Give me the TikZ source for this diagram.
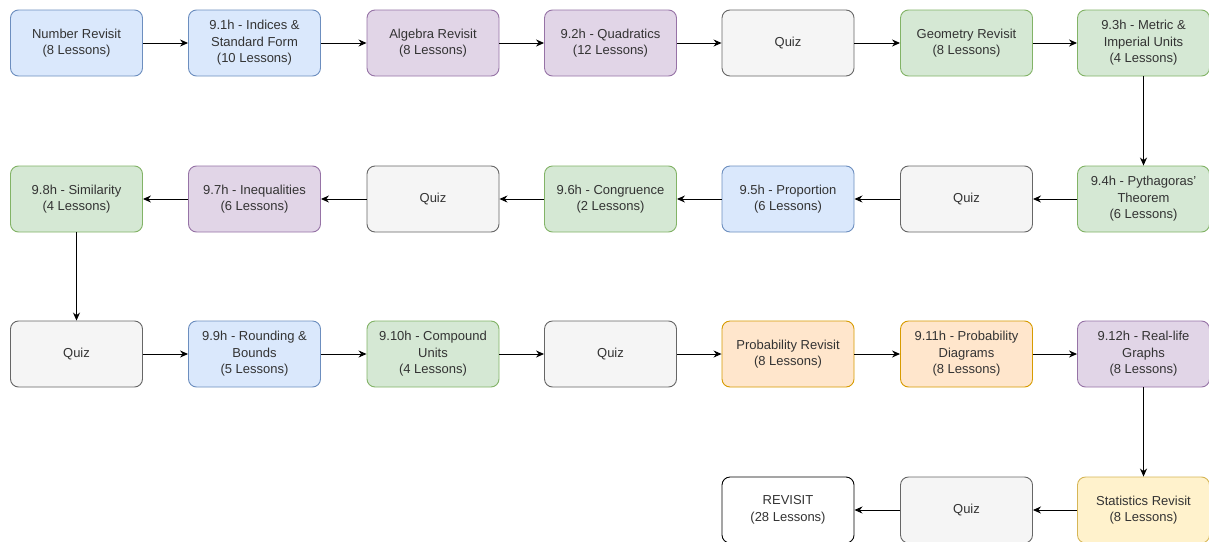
\documentclass[tikz,border=0pt]{standalone}
\usepackage{fontspec}
\setmainfont{Liberation Sans}
\usetikzlibrary{arrows.meta}
\definecolor{bfill}{HTML}{DAE8FC}\definecolor{bline}{HTML}{6C8EBF}
\definecolor{pfill}{HTML}{E1D5E7}\definecolor{pline}{HTML}{9673A6}
\definecolor{gfill}{HTML}{D5E8D4}\definecolor{gline}{HTML}{82B366}
\definecolor{qfill}{HTML}{F5F5F5}\definecolor{qline}{HTML}{666666}
\definecolor{ofill}{HTML}{FFE6CC}\definecolor{oline}{HTML}{D79B00}
\definecolor{yfill}{HTML}{FFF2CC}\definecolor{yline}{HTML}{D6B656}
\definecolor{txt}{HTML}{333333}
\tikzset{
  box/.style={rounded corners=8pt, minimum width=132pt, minimum height=66pt,
    inner sep=0pt, align=center, line width=0.9pt,
    font=\fontsize{13}{16.5}\selectfont, text=txt},
  bluebox/.style={box, fill=bfill, draw=bline},
  purplebox/.style={box, fill=pfill, draw=pline},
  greenbox/.style={box, fill=gfill, draw=gline},
  quizbox/.style={box, fill=qfill, draw=qline},
  orangebox/.style={box, fill=ofill, draw=oline},
  yellowbox/.style={box, fill=yfill, draw=yline},
  whitebox/.style={box, fill=white, draw=black},
  conn/.style={-{Stealth[length=8pt,width=7pt]}, line width=1pt, black}
}
\begin{document}
\begin{tikzpicture}[x=1pt,y=-1pt]
\useasboundingbox[fill=white] (0,0) rectangle (1209,541);
% row 1
\node[bluebox]   (a1) at (76.5,43) {Number Revisit\\(8 Lessons)};
\node[bluebox]   (a2) at (254.5,43) {9.1h - Indices \&\\Standard Form\\(10 Lessons)};
\node[purplebox] (a3) at (433,43) {Algebra Revisit\\(8 Lessons)};
\node[purplebox] (a4) at (610.5,43) {9.2h - Quadratics\\(12 Lessons)};
\node[quizbox]   (a5) at (788,43) {Quiz};
\node[greenbox]  (a6) at (966.5,43) {Geometry Revisit\\(8 Lessons)};
\node[greenbox]  (a7) at (1143.5,43) {9.3h - Metric \&\\Imperial Units\\(4 Lessons)};
% row 2
\node[greenbox]  (b1) at (76.5,199) {9.8h - Similarity\\(4 Lessons)};
\node[purplebox] (b2) at (254.5,199) {9.7h - Inequalities\\(6 Lessons)};
\node[quizbox]   (b3) at (433,199) {Quiz};
\node[greenbox]  (b4) at (610.5,199) {9.6h - Congruence\\(2 Lessons)};
\node[bluebox]   (b5) at (788,199) {9.5h - Proportion\\(6 Lessons)};
\node[quizbox]   (b6) at (966.5,199) {Quiz};
\node[greenbox]  (b7) at (1143.5,199) {9.4h - Pythagoras'\\Theorem\\(6 Lessons)};
% row 3
\node[quizbox]   (c1) at (76.5,354) {Quiz};
\node[bluebox]   (c2) at (254.5,354) {9.9h - Rounding \&\\Bounds\\(5 Lessons)};
\node[greenbox]  (c3) at (433,354) {9.10h - Compound\\Units\\(4 Lessons)};
\node[quizbox]   (c4) at (610.5,354) {Quiz};
\node[orangebox] (c5) at (788,354) {Probability Revisit\\(8 Lessons)};
\node[orangebox] (c6) at (966.5,354) {9.11h - Probability\\Diagrams\\(8 Lessons)};
\node[purplebox] (c7) at (1143.5,354) {9.12h - Real-life\\Graphs\\(8 Lessons)};
% row 4
\node[whitebox]  (d5) at (788,510) {REVISIT\\(28 Lessons)};
\node[quizbox]   (d6) at (966.5,510) {Quiz};
\node[yellowbox] (d7) at (1143.5,510) {Statistics Revisit\\(8 Lessons)};
% connectors
\draw[conn] (a1) -- (a2);
\draw[conn] (a2) -- (a3);
\draw[conn] (a3) -- (a4);
\draw[conn] (a4) -- (a5);
\draw[conn] (a5) -- (a6);
\draw[conn] (a6) -- (a7);
\draw[conn] (a7) -- (b7);
\draw[conn] (b7) -- (b6);
\draw[conn] (b6) -- (b5);
\draw[conn] (b5) -- (b4);
\draw[conn] (b4) -- (b3);
\draw[conn] (b3) -- (b2);
\draw[conn] (b2) -- (b1);
\draw[conn] (b1) -- (c1);
\draw[conn] (c1) -- (c2);
\draw[conn] (c2) -- (c3);
\draw[conn] (c3) -- (c4);
\draw[conn] (c4) -- (c5);
\draw[conn] (c5) -- (c6);
\draw[conn] (c6) -- (c7);
\draw[conn] (c7) -- (d7);
\draw[conn] (d7) -- (d6);
\draw[conn] (d6) -- (d5);
\end{tikzpicture}
\end{document}
